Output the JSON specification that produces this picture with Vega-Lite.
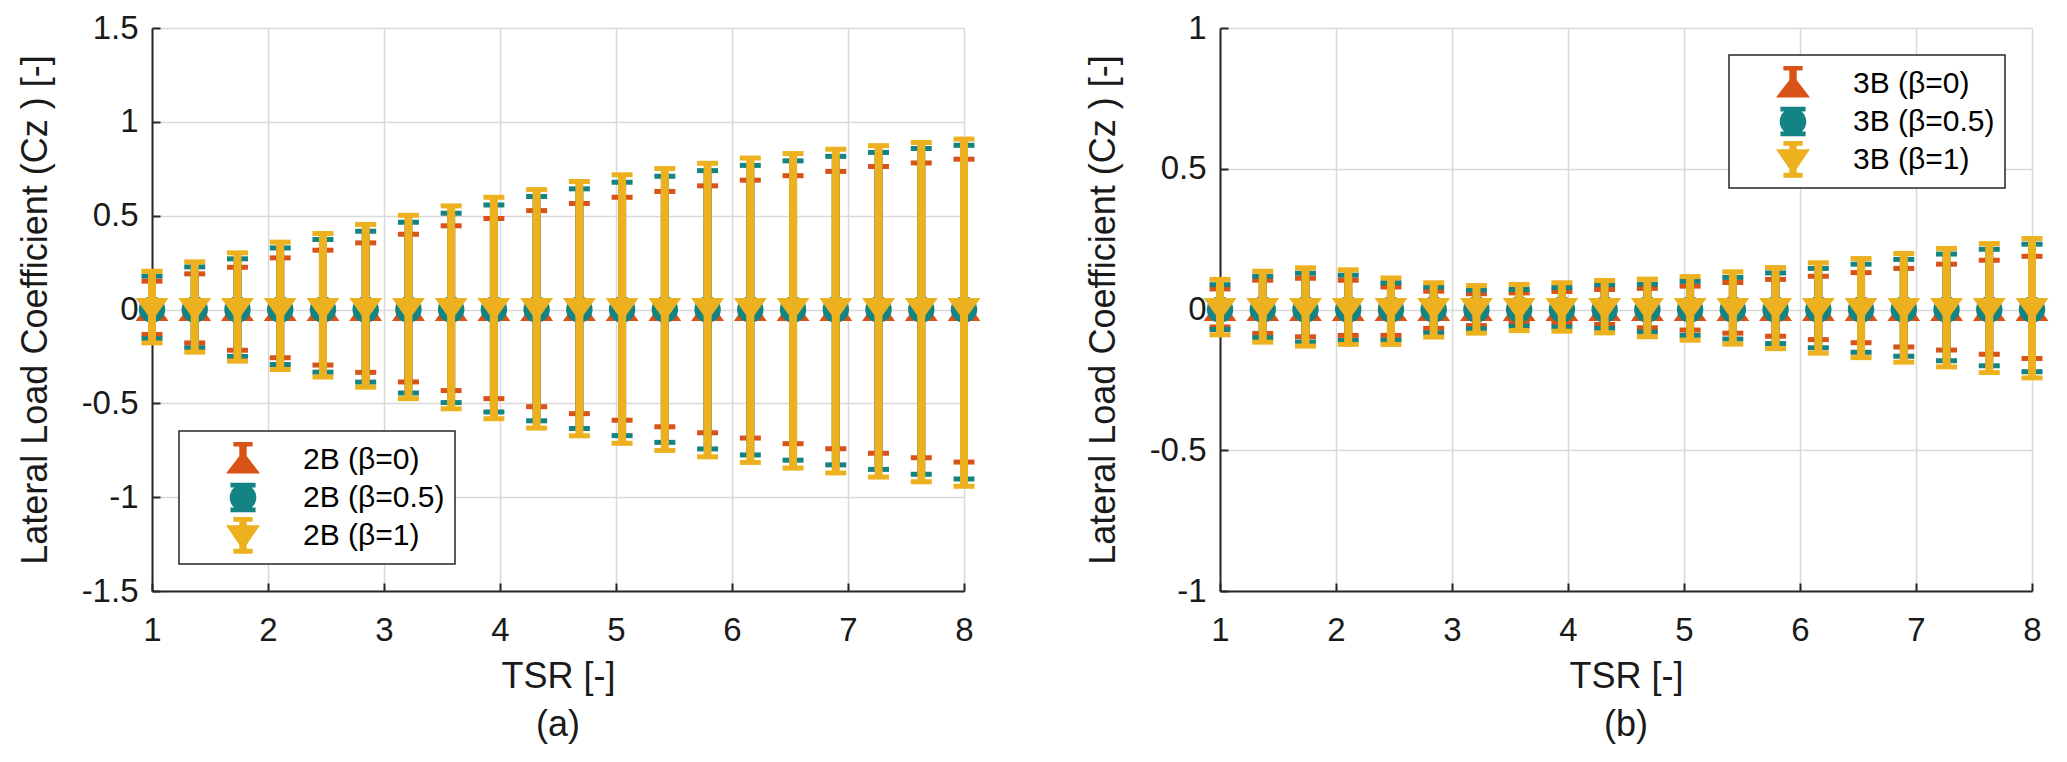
{
  "$schema": "https://vega.github.io/schema/vega-lite/v6.json",
  "background": "white",
  "padding": {"left": 17, "top": 12, "right": 10, "bottom": 10},
  "spacing": 104,
  "resolve": {"scale": {"color": "independent", "shape": "independent"}},
  "config": {
    "view": {"stroke": null},
    "font": "Liberation Sans",
    "axis": {
      "domainColor": "#262626", "domainWidth": 2,
      "tickColor": "#262626", "tickWidth": 2, "tickSize": -8,
      "gridColor": "#D9D9D9", "gridWidth": 1.5,
      "labelFont": "Liberation Sans", "labelFontSize": 33, "labelColor": "#1a1a1a",
      "titleFont": "Liberation Sans", "titleFontSize": 36, "titleFontWeight": "normal", "titleColor": "#1a1a1a",
      "labelExpr": "'' + datum.value"
    },
    "axisX": {"tickCount": 8, "labelPadding": 31, "titlePadding": 12, "labelFlush": false},
    "axisY": {"tickCount": 6, "labelPadding": 22, "titlePadding": 27},
    "legend": {
      "strokeColor": "#262626", "strokeWidth": 1.5, "fillColor": "white",
      "padding": 10, "offset": 27, "rowPadding": 4,
      "symbolSize": 1369, "symbolOffset": 35.5, "symbolStrokeWidth": 0, "symbolOpacity": 1,
      "labelOffset": 41.5, "labelFontSize": 30, "labelFont": "Liberation Sans", "labelColor": "#000000", "labelLimit": 400
    },
    "title": {"font": "Liberation Sans", "fontSize": 36, "fontWeight": "normal", "color": "#1a1a1a"}
  },
  "hconcat": [
    {
      "width": 812, "height": 563,
      "data": {"name": "a"},
      "title": {"text": "(a)", "orient": "bottom", "offset": 14},
      "encoding": {"x": {"field": "tsr", "type": "quantitative", "scale": {"domain": [1, 8], "nice": false}, "title": "TSR [-]"}},
      "layer": [
        {"transform": [{"filter": "datum.beta == 0"}], "mark": {"type": "rule", "color": "#D95319", "strokeWidth": 8},
         "encoding": {"y": {"field": "lower", "type": "quantitative", "scale": {"domain": [-1.5, 1.5], "nice": false}, "title": "Lateral Load Coefficient (Cz ) [-]"}, "y2": {"field": "upper"}}},
        {"transform": [{"filter": "datum.beta == 0"}, {"fold": ["lower", "upper"], "as": ["cap", "v"]}], "mark": {"type": "tick", "orient": "horizontal", "color": "#D95319", "size": 21, "thickness": 5, "opacity": 1},
         "encoding": {"y": {"field": "v", "type": "quantitative", "scale": {"domain": [-1.5, 1.5], "nice": false}, "title": "Lateral Load Coefficient (Cz ) [-]"}}},
        {"transform": [{"filter": "datum.beta == 0"}], "mark": {"type": "point", "shape": "M0,-0.7L1,0.7L-1,0.7Z", "filled": true, "size": 1089, "color": "#D95319", "opacity": 1, "strokeWidth": 0},
         "encoding": {"y": {"field": "mean", "type": "quantitative", "scale": {"domain": [-1.5, 1.5], "nice": false}, "title": "Lateral Load Coefficient (Cz ) [-]"}}},
        {"transform": [{"filter": "datum.beta == 0.5"}], "mark": {"type": "rule", "color": "#138383", "strokeWidth": 8},
         "encoding": {"y": {"field": "lower", "type": "quantitative", "scale": {"domain": [-1.5, 1.5], "nice": false}, "title": "Lateral Load Coefficient (Cz ) [-]"}, "y2": {"field": "upper"}}},
        {"transform": [{"filter": "datum.beta == 0.5"}, {"fold": ["lower", "upper"], "as": ["cap", "v"]}], "mark": {"type": "tick", "orient": "horizontal", "color": "#138383", "size": 21, "thickness": 5, "opacity": 1},
         "encoding": {"y": {"field": "v", "type": "quantitative", "scale": {"domain": [-1.5, 1.5], "nice": false}, "title": "Lateral Load Coefficient (Cz ) [-]"}}},
        {"transform": [{"filter": "datum.beta == 0.5"}], "mark": {"type": "point", "shape": "circle", "filled": true, "size": 700, "color": "#138383", "opacity": 1, "strokeWidth": 0},
         "encoding": {"y": {"field": "mean", "type": "quantitative", "scale": {"domain": [-1.5, 1.5], "nice": false}, "title": "Lateral Load Coefficient (Cz ) [-]"}}},
        {"transform": [{"filter": "datum.beta == 1"}], "mark": {"type": "rule", "color": "#EDB120", "strokeWidth": 8},
         "encoding": {"y": {"field": "lower", "type": "quantitative", "scale": {"domain": [-1.5, 1.5], "nice": false}, "title": "Lateral Load Coefficient (Cz ) [-]"}, "y2": {"field": "upper"}}},
        {"transform": [{"filter": "datum.beta == 1"}, {"fold": ["lower", "upper"], "as": ["cap", "v"]}], "mark": {"type": "tick", "orient": "horizontal", "color": "#EDB120", "size": 21, "thickness": 5, "opacity": 1},
         "encoding": {"y": {"field": "v", "type": "quantitative", "scale": {"domain": [-1.5, 1.5], "nice": false}, "title": "Lateral Load Coefficient (Cz ) [-]"}}},
        {"transform": [{"filter": "datum.beta == 1"}], "mark": {"type": "point", "shape": "M-1,-0.7L1,-0.7L0,0.7Z", "filled": true, "size": 1089, "color": "#EDB120", "opacity": 1, "strokeWidth": 0},
         "encoding": {"y": {"field": "mean", "type": "quantitative", "scale": {"domain": [-1.5, 1.5], "nice": false}, "title": "Lateral Load Coefficient (Cz ) [-]"}}},
        {"mark": {"type": "point", "filled": true, "size": 0, "opacity": 1, "strokeWidth": 0},
         "encoding": {
           "y": {"field": "mean", "type": "quantitative", "scale": {"domain": [-1.5, 1.5], "nice": false}, "title": "Lateral Load Coefficient (Cz ) [-]"},
           "color": {"field": "series", "type": "nominal", "scale": {"domain": ["2B (β=0)", "2B (β=0.5)", "2B (β=1)"], "range": ["#D95319", "#138383", "#EDB120"]}, "legend": {"orient": "bottom-left", "title": null}},
           "shape": {"field": "series", "type": "nominal", "scale": {"domain": ["2B (β=0)", "2B (β=0.5)", "2B (β=1)"], "range": [
             "M0,-0.45L0.92,0.75L-0.92,0.75ZM-0.2,-0.95L0.2,-0.95L0.2,0.5L-0.2,0.5ZM-0.52,-0.95L0.52,-0.95L0.52,-0.7L-0.52,-0.7Z",
             "M-0.72,0A0.72,0.72 0 1,1 0.72,0A0.72,0.72 0 1,1 -0.72,0ZM-0.2,-0.8L0.2,-0.8L0.2,0.8L-0.2,0.8ZM-0.68,-0.8L0.68,-0.8L0.68,-0.54L-0.68,-0.54ZM-0.68,0.54L0.68,0.54L0.68,0.8L-0.68,0.8Z",
             "M-0.92,-0.56L0.92,-0.56L0,0.8ZM-0.2,-1L0.2,-1L0.2,0.98L-0.2,0.98ZM-0.52,-1L0.52,-1L0.52,-0.74L-0.52,-0.74ZM-0.52,0.72L0.52,0.72L0.52,0.98L-0.52,0.98Z"]}, "legend": {"orient": "bottom-left", "title": null}}
         }}
      ]
    },
    {
      "width": 812, "height": 563,
      "data": {"name": "b"},
      "title": {"text": "(b)", "orient": "bottom", "offset": 14},
      "encoding": {"x": {"field": "tsr", "type": "quantitative", "scale": {"domain": [1, 8], "nice": false}, "title": "TSR [-]"}},
      "layer": [
        {"transform": [{"filter": "datum.beta == 0"}], "mark": {"type": "rule", "color": "#D95319", "strokeWidth": 8},
         "encoding": {"y": {"field": "lower", "type": "quantitative", "scale": {"domain": [-1, 1], "nice": false}, "title": "Lateral Load Coefficient (Cz ) [-]"}, "y2": {"field": "upper"}}},
        {"transform": [{"filter": "datum.beta == 0"}, {"fold": ["lower", "upper"], "as": ["cap", "v"]}], "mark": {"type": "tick", "orient": "horizontal", "color": "#D95319", "size": 21, "thickness": 5, "opacity": 1},
         "encoding": {"y": {"field": "v", "type": "quantitative", "scale": {"domain": [-1, 1], "nice": false}, "title": "Lateral Load Coefficient (Cz ) [-]"}}},
        {"transform": [{"filter": "datum.beta == 0"}], "mark": {"type": "point", "shape": "M0,-0.7L1,0.7L-1,0.7Z", "filled": true, "size": 1089, "color": "#D95319", "opacity": 1, "strokeWidth": 0},
         "encoding": {"y": {"field": "mean", "type": "quantitative", "scale": {"domain": [-1, 1], "nice": false}, "title": "Lateral Load Coefficient (Cz ) [-]"}}},
        {"transform": [{"filter": "datum.beta == 0.5"}], "mark": {"type": "rule", "color": "#138383", "strokeWidth": 8},
         "encoding": {"y": {"field": "lower", "type": "quantitative", "scale": {"domain": [-1, 1], "nice": false}, "title": "Lateral Load Coefficient (Cz ) [-]"}, "y2": {"field": "upper"}}},
        {"transform": [{"filter": "datum.beta == 0.5"}, {"fold": ["lower", "upper"], "as": ["cap", "v"]}], "mark": {"type": "tick", "orient": "horizontal", "color": "#138383", "size": 21, "thickness": 5, "opacity": 1},
         "encoding": {"y": {"field": "v", "type": "quantitative", "scale": {"domain": [-1, 1], "nice": false}, "title": "Lateral Load Coefficient (Cz ) [-]"}}},
        {"transform": [{"filter": "datum.beta == 0.5"}], "mark": {"type": "point", "shape": "circle", "filled": true, "size": 700, "color": "#138383", "opacity": 1, "strokeWidth": 0},
         "encoding": {"y": {"field": "mean", "type": "quantitative", "scale": {"domain": [-1, 1], "nice": false}, "title": "Lateral Load Coefficient (Cz ) [-]"}}},
        {"transform": [{"filter": "datum.beta == 1"}], "mark": {"type": "rule", "color": "#EDB120", "strokeWidth": 8},
         "encoding": {"y": {"field": "lower", "type": "quantitative", "scale": {"domain": [-1, 1], "nice": false}, "title": "Lateral Load Coefficient (Cz ) [-]"}, "y2": {"field": "upper"}}},
        {"transform": [{"filter": "datum.beta == 1"}, {"fold": ["lower", "upper"], "as": ["cap", "v"]}], "mark": {"type": "tick", "orient": "horizontal", "color": "#EDB120", "size": 21, "thickness": 5, "opacity": 1},
         "encoding": {"y": {"field": "v", "type": "quantitative", "scale": {"domain": [-1, 1], "nice": false}, "title": "Lateral Load Coefficient (Cz ) [-]"}}},
        {"transform": [{"filter": "datum.beta == 1"}], "mark": {"type": "point", "shape": "M-1,-0.7L1,-0.7L0,0.7Z", "filled": true, "size": 1089, "color": "#EDB120", "opacity": 1, "strokeWidth": 0},
         "encoding": {"y": {"field": "mean", "type": "quantitative", "scale": {"domain": [-1, 1], "nice": false}, "title": "Lateral Load Coefficient (Cz ) [-]"}}},
        {"mark": {"type": "point", "filled": true, "size": 0, "opacity": 1, "strokeWidth": 0},
         "encoding": {
           "y": {"field": "mean", "type": "quantitative", "scale": {"domain": [-1, 1], "nice": false}, "title": "Lateral Load Coefficient (Cz ) [-]"},
           "color": {"field": "series", "type": "nominal", "scale": {"domain": ["3B (β=0)", "3B (β=0.5)", "3B (β=1)"], "range": ["#D95319", "#138383", "#EDB120"]}, "legend": {"orient": "top-right", "title": null}},
           "shape": {"field": "series", "type": "nominal", "scale": {"domain": ["3B (β=0)", "3B (β=0.5)", "3B (β=1)"], "range": [
             "M0,-0.45L0.92,0.75L-0.92,0.75ZM-0.2,-0.95L0.2,-0.95L0.2,0.5L-0.2,0.5ZM-0.52,-0.95L0.52,-0.95L0.52,-0.7L-0.52,-0.7Z",
             "M-0.72,0A0.72,0.72 0 1,1 0.72,0A0.72,0.72 0 1,1 -0.72,0ZM-0.2,-0.8L0.2,-0.8L0.2,0.8L-0.2,0.8ZM-0.68,-0.8L0.68,-0.8L0.68,-0.54L-0.68,-0.54ZM-0.68,0.54L0.68,0.54L0.68,0.8L-0.68,0.8Z",
             "M-0.92,-0.56L0.92,-0.56L0,0.8ZM-0.2,-1L0.2,-1L0.2,0.98L-0.2,0.98ZM-0.52,-1L0.52,-1L0.52,-0.74L-0.52,-0.74ZM-0.52,0.72L0.52,0.72L0.52,0.98L-0.52,0.98Z"]}, "legend": {"orient": "top-right", "title": null}}
         }}
      ]
    }
  ],
  "datasets": {
    "a": [
      {"tsr": 1, "beta": 0, "series": "2B (β=0)", "mean": 0, "lower": -0.133, "upper": 0.151},
      {"tsr": 1.3684, "beta": 0, "series": "2B (β=0)", "mean": 0, "lower": -0.178, "upper": 0.19},
      {"tsr": 1.7368, "beta": 0, "series": "2B (β=0)", "mean": 0, "lower": -0.217, "upper": 0.225},
      {"tsr": 2.1053, "beta": 0, "series": "2B (β=0)", "mean": 0, "lower": -0.257, "upper": 0.275},
      {"tsr": 2.4737, "beta": 0, "series": "2B (β=0)", "mean": 0, "lower": -0.296, "upper": 0.316},
      {"tsr": 2.8421, "beta": 0, "series": "2B (β=0)", "mean": 0, "lower": -0.335, "upper": 0.355},
      {"tsr": 3.2105, "beta": 0, "series": "2B (β=0)", "mean": 0, "lower": -0.386, "upper": 0.401},
      {"tsr": 3.5789, "beta": 0, "series": "2B (β=0)", "mean": 0, "lower": -0.432, "upper": 0.446},
      {"tsr": 3.9474, "beta": 0, "series": "2B (β=0)", "mean": 0, "lower": -0.475, "upper": 0.485},
      {"tsr": 4.3158, "beta": 0, "series": "2B (β=0)", "mean": 0, "lower": -0.518, "upper": 0.527},
      {"tsr": 4.6842, "beta": 0, "series": "2B (β=0)", "mean": 0, "lower": -0.555, "upper": 0.565},
      {"tsr": 5.0526, "beta": 0, "series": "2B (β=0)", "mean": 0, "lower": -0.59, "upper": 0.598},
      {"tsr": 5.4211, "beta": 0, "series": "2B (β=0)", "mean": 0, "lower": -0.625, "upper": 0.629},
      {"tsr": 5.7895, "beta": 0, "series": "2B (β=0)", "mean": 0, "lower": -0.657, "upper": 0.659},
      {"tsr": 6.1579, "beta": 0, "series": "2B (β=0)", "mean": 0, "lower": -0.685, "upper": 0.689},
      {"tsr": 6.5263, "beta": 0, "series": "2B (β=0)", "mean": 0, "lower": -0.715, "upper": 0.713},
      {"tsr": 6.8947, "beta": 0, "series": "2B (β=0)", "mean": 0, "lower": -0.742, "upper": 0.736},
      {"tsr": 7.2632, "beta": 0, "series": "2B (β=0)", "mean": 0, "lower": -0.766, "upper": 0.762},
      {"tsr": 7.6316, "beta": 0, "series": "2B (β=0)", "mean": 0, "lower": -0.79, "upper": 0.781},
      {"tsr": 8, "beta": 0, "series": "2B (β=0)", "mean": 0, "lower": -0.813, "upper": 0.801},
      {"tsr": 1, "beta": 0.5, "series": "2B (β=0.5)", "mean": 0, "lower": -0.156, "upper": 0.178},
      {"tsr": 1.3684, "beta": 0.5, "series": "2B (β=0.5)", "mean": 0, "lower": -0.204, "upper": 0.227},
      {"tsr": 1.7368, "beta": 0.5, "series": "2B (β=0.5)", "mean": 0, "lower": -0.25, "upper": 0.27},
      {"tsr": 2.1053, "beta": 0.5, "series": "2B (β=0.5)", "mean": 0, "lower": -0.293, "upper": 0.328},
      {"tsr": 2.4737, "beta": 0.5, "series": "2B (β=0.5)", "mean": 0, "lower": -0.334, "upper": 0.373},
      {"tsr": 2.8421, "beta": 0.5, "series": "2B (β=0.5)", "mean": 0, "lower": -0.387, "upper": 0.417},
      {"tsr": 3.2105, "beta": 0.5, "series": "2B (β=0.5)", "mean": 0, "lower": -0.445, "upper": 0.465},
      {"tsr": 3.5789, "beta": 0.5, "series": "2B (β=0.5)", "mean": 0, "lower": -0.496, "upper": 0.513},
      {"tsr": 3.9474, "beta": 0.5, "series": "2B (β=0.5)", "mean": 0, "lower": -0.546, "upper": 0.557},
      {"tsr": 4.3158, "beta": 0.5, "series": "2B (β=0.5)", "mean": 0, "lower": -0.593, "upper": 0.602},
      {"tsr": 4.6842, "beta": 0.5, "series": "2B (β=0.5)", "mean": 0, "lower": -0.634, "upper": 0.643},
      {"tsr": 5.0526, "beta": 0.5, "series": "2B (β=0.5)", "mean": 0, "lower": -0.672, "upper": 0.678},
      {"tsr": 5.4211, "beta": 0.5, "series": "2B (β=0.5)", "mean": 0, "lower": -0.708, "upper": 0.71},
      {"tsr": 5.7895, "beta": 0.5, "series": "2B (β=0.5)", "mean": 0, "lower": -0.743, "upper": 0.74},
      {"tsr": 6.1579, "beta": 0.5, "series": "2B (β=0.5)", "mean": 0, "lower": -0.775, "upper": 0.768},
      {"tsr": 6.5263, "beta": 0.5, "series": "2B (β=0.5)", "mean": 0, "lower": -0.803, "upper": 0.792},
      {"tsr": 6.8947, "beta": 0.5, "series": "2B (β=0.5)", "mean": 0, "lower": -0.828, "upper": 0.816},
      {"tsr": 7.2632, "beta": 0.5, "series": "2B (β=0.5)", "mean": 0, "lower": -0.852, "upper": 0.837},
      {"tsr": 7.6316, "beta": 0.5, "series": "2B (β=0.5)", "mean": 0, "lower": -0.878, "upper": 0.858},
      {"tsr": 8, "beta": 0.5, "series": "2B (β=0.5)", "mean": 0, "lower": -0.903, "upper": 0.875},
      {"tsr": 1, "beta": 1, "series": "2B (β=1)", "mean": 0, "lower": -0.178, "upper": 0.204},
      {"tsr": 1.3684, "beta": 1, "series": "2B (β=1)", "mean": 0, "lower": -0.227, "upper": 0.254},
      {"tsr": 1.7368, "beta": 1, "series": "2B (β=1)", "mean": 0, "lower": -0.275, "upper": 0.302},
      {"tsr": 2.1053, "beta": 1, "series": "2B (β=1)", "mean": 0, "lower": -0.32, "upper": 0.359},
      {"tsr": 2.4737, "beta": 1, "series": "2B (β=1)", "mean": 0, "lower": -0.36, "upper": 0.405},
      {"tsr": 2.8421, "beta": 1, "series": "2B (β=1)", "mean": 0, "lower": -0.414, "upper": 0.453},
      {"tsr": 3.2105, "beta": 1, "series": "2B (β=1)", "mean": 0, "lower": -0.475, "upper": 0.502},
      {"tsr": 3.5789, "beta": 1, "series": "2B (β=1)", "mean": 0, "lower": -0.529, "upper": 0.552},
      {"tsr": 3.9474, "beta": 1, "series": "2B (β=1)", "mean": 0, "lower": -0.582, "upper": 0.598},
      {"tsr": 4.3158, "beta": 1, "series": "2B (β=1)", "mean": 0, "lower": -0.632, "upper": 0.639},
      {"tsr": 4.6842, "beta": 1, "series": "2B (β=1)", "mean": 0, "lower": -0.673, "upper": 0.682},
      {"tsr": 5.0526, "beta": 1, "series": "2B (β=1)", "mean": 0, "lower": -0.713, "upper": 0.718},
      {"tsr": 5.4211, "beta": 1, "series": "2B (β=1)", "mean": 0, "lower": -0.751, "upper": 0.751},
      {"tsr": 5.7895, "beta": 1, "series": "2B (β=1)", "mean": 0, "lower": -0.785, "upper": 0.779},
      {"tsr": 6.1579, "beta": 1, "series": "2B (β=1)", "mean": 0, "lower": -0.815, "upper": 0.807},
      {"tsr": 6.5263, "beta": 1, "series": "2B (β=1)", "mean": 0, "lower": -0.845, "upper": 0.831},
      {"tsr": 6.8947, "beta": 1, "series": "2B (β=1)", "mean": 0, "lower": -0.871, "upper": 0.854},
      {"tsr": 7.2632, "beta": 1, "series": "2B (β=1)", "mean": 0, "lower": -0.893, "upper": 0.873},
      {"tsr": 7.6316, "beta": 1, "series": "2B (β=1)", "mean": 0, "lower": -0.918, "upper": 0.89},
      {"tsr": 8, "beta": 1, "series": "2B (β=1)", "mean": 0, "lower": -0.942, "upper": 0.908}
    ],
    "b": [
      {"tsr": 1, "beta": 0, "series": "3B (β=0)", "mean": 0, "lower": -0.062, "upper": 0.073},
      {"tsr": 1.3684, "beta": 0, "series": "3B (β=0)", "mean": 0, "lower": -0.085, "upper": 0.104},
      {"tsr": 1.7368, "beta": 0, "series": "3B (β=0)", "mean": 0, "lower": -0.097, "upper": 0.111},
      {"tsr": 2.1053, "beta": 0, "series": "3B (β=0)", "mean": 0, "lower": -0.092, "upper": 0.104},
      {"tsr": 2.4737, "beta": 0, "series": "3B (β=0)", "mean": 0, "lower": -0.092, "upper": 0.08},
      {"tsr": 2.8421, "beta": 0, "series": "3B (β=0)", "mean": 0, "lower": -0.067, "upper": 0.065},
      {"tsr": 3.2105, "beta": 0, "series": "3B (β=0)", "mean": 0, "lower": -0.057, "upper": 0.056},
      {"tsr": 3.5789, "beta": 0, "series": "3B (β=0)", "mean": 0, "lower": -0.047, "upper": 0.059},
      {"tsr": 3.9474, "beta": 0, "series": "3B (β=0)", "mean": 0, "lower": -0.047, "upper": 0.064},
      {"tsr": 4.3158, "beta": 0, "series": "3B (β=0)", "mean": 0, "lower": -0.053, "upper": 0.071},
      {"tsr": 4.6842, "beta": 0, "series": "3B (β=0)", "mean": 0, "lower": -0.065, "upper": 0.075},
      {"tsr": 5.0526, "beta": 0, "series": "3B (β=0)", "mean": 0, "lower": -0.073, "upper": 0.083},
      {"tsr": 5.4211, "beta": 0, "series": "3B (β=0)", "mean": 0, "lower": -0.084, "upper": 0.096},
      {"tsr": 5.7895, "beta": 0, "series": "3B (β=0)", "mean": 0, "lower": -0.095, "upper": 0.107},
      {"tsr": 6.1579, "beta": 0, "series": "3B (β=0)", "mean": 0, "lower": -0.107, "upper": 0.118},
      {"tsr": 6.5263, "beta": 0, "series": "3B (β=0)", "mean": 0, "lower": -0.118, "upper": 0.131},
      {"tsr": 6.8947, "beta": 0, "series": "3B (β=0)", "mean": 0, "lower": -0.133, "upper": 0.146},
      {"tsr": 7.2632, "beta": 0, "series": "3B (β=0)", "mean": 0, "lower": -0.144, "upper": 0.161},
      {"tsr": 7.6316, "beta": 0, "series": "3B (β=0)", "mean": 0, "lower": -0.159, "upper": 0.175},
      {"tsr": 8, "beta": 0, "series": "3B (β=0)", "mean": 0, "lower": -0.174, "upper": 0.189},
      {"tsr": 1, "beta": 0.5, "series": "3B (β=0.5)", "mean": 0, "lower": -0.071, "upper": 0.088},
      {"tsr": 1.3684, "beta": 0.5, "series": "3B (β=0.5)", "mean": 0, "lower": -0.1, "upper": 0.118},
      {"tsr": 1.7368, "beta": 0.5, "series": "3B (β=0.5)", "mean": 0, "lower": -0.116, "upper": 0.129},
      {"tsr": 2.1053, "beta": 0.5, "series": "3B (β=0.5)", "mean": 0, "lower": -0.11, "upper": 0.122},
      {"tsr": 2.4737, "beta": 0.5, "series": "3B (β=0.5)", "mean": 0, "lower": -0.109, "upper": 0.095},
      {"tsr": 2.8421, "beta": 0.5, "series": "3B (β=0.5)", "mean": 0, "lower": -0.083, "upper": 0.08},
      {"tsr": 3.2105, "beta": 0.5, "series": "3B (β=0.5)", "mean": 0, "lower": -0.069, "upper": 0.069},
      {"tsr": 3.5789, "beta": 0.5, "series": "3B (β=0.5)", "mean": 0, "lower": -0.059, "upper": 0.071},
      {"tsr": 3.9474, "beta": 0.5, "series": "3B (β=0.5)", "mean": 0, "lower": -0.062, "upper": 0.078},
      {"tsr": 4.3158, "beta": 0.5, "series": "3B (β=0.5)", "mean": 0, "lower": -0.067, "upper": 0.088},
      {"tsr": 4.6842, "beta": 0.5, "series": "3B (β=0.5)", "mean": 0, "lower": -0.08, "upper": 0.09},
      {"tsr": 5.0526, "beta": 0.5, "series": "3B (β=0.5)", "mean": 0, "lower": -0.092, "upper": 0.1},
      {"tsr": 5.4211, "beta": 0.5, "series": "3B (β=0.5)", "mean": 0, "lower": -0.105, "upper": 0.114},
      {"tsr": 5.7895, "beta": 0.5, "series": "3B (β=0.5)", "mean": 0, "lower": -0.121, "upper": 0.13},
      {"tsr": 6.1579, "beta": 0.5, "series": "3B (β=0.5)", "mean": 0, "lower": -0.136, "upper": 0.146},
      {"tsr": 6.5263, "beta": 0.5, "series": "3B (β=0.5)", "mean": 0, "lower": -0.152, "upper": 0.161},
      {"tsr": 6.8947, "beta": 0.5, "series": "3B (β=0.5)", "mean": 0, "lower": -0.166, "upper": 0.178},
      {"tsr": 7.2632, "beta": 0.5, "series": "3B (β=0.5)", "mean": 0, "lower": -0.182, "upper": 0.197},
      {"tsr": 7.6316, "beta": 0.5, "series": "3B (β=0.5)", "mean": 0, "lower": -0.2, "upper": 0.214},
      {"tsr": 8, "beta": 0.5, "series": "3B (β=0.5)", "mean": 0, "lower": -0.221, "upper": 0.232},
      {"tsr": 1, "beta": 1, "series": "3B (β=1)", "mean": 0, "lower": -0.09, "upper": 0.107},
      {"tsr": 1.3684, "beta": 1, "series": "3B (β=1)", "mean": 0, "lower": -0.116, "upper": 0.136},
      {"tsr": 1.7368, "beta": 1, "series": "3B (β=1)", "mean": 0, "lower": -0.13, "upper": 0.148},
      {"tsr": 2.1053, "beta": 1, "series": "3B (β=1)", "mean": 0, "lower": -0.124, "upper": 0.141},
      {"tsr": 2.4737, "beta": 1, "series": "3B (β=1)", "mean": 0, "lower": -0.124, "upper": 0.112},
      {"tsr": 2.8421, "beta": 1, "series": "3B (β=1)", "mean": 0, "lower": -0.098, "upper": 0.095},
      {"tsr": 3.2105, "beta": 1, "series": "3B (β=1)", "mean": 0, "lower": -0.084, "upper": 0.085},
      {"tsr": 3.5789, "beta": 1, "series": "3B (β=1)", "mean": 0, "lower": -0.075, "upper": 0.089},
      {"tsr": 3.9474, "beta": 1, "series": "3B (β=1)", "mean": 0, "lower": -0.077, "upper": 0.095},
      {"tsr": 4.3158, "beta": 1, "series": "3B (β=1)", "mean": 0, "lower": -0.083, "upper": 0.103},
      {"tsr": 4.6842, "beta": 1, "series": "3B (β=1)", "mean": 0, "lower": -0.097, "upper": 0.108},
      {"tsr": 5.0526, "beta": 1, "series": "3B (β=1)", "mean": 0, "lower": -0.109, "upper": 0.117},
      {"tsr": 5.4211, "beta": 1, "series": "3B (β=1)", "mean": 0, "lower": -0.123, "upper": 0.134},
      {"tsr": 5.7895, "beta": 1, "series": "3B (β=1)", "mean": 0, "lower": -0.139, "upper": 0.149},
      {"tsr": 6.1579, "beta": 1, "series": "3B (β=1)", "mean": 0, "lower": -0.155, "upper": 0.166},
      {"tsr": 6.5263, "beta": 1, "series": "3B (β=1)", "mean": 0, "lower": -0.171, "upper": 0.181},
      {"tsr": 6.8947, "beta": 1, "series": "3B (β=1)", "mean": 0, "lower": -0.187, "upper": 0.199},
      {"tsr": 7.2632, "beta": 1, "series": "3B (β=1)", "mean": 0, "lower": -0.204, "upper": 0.217},
      {"tsr": 7.6316, "beta": 1, "series": "3B (β=1)", "mean": 0, "lower": -0.224, "upper": 0.234},
      {"tsr": 8, "beta": 1, "series": "3B (β=1)", "mean": 0, "lower": -0.243, "upper": 0.252}
    ]
  }
}
